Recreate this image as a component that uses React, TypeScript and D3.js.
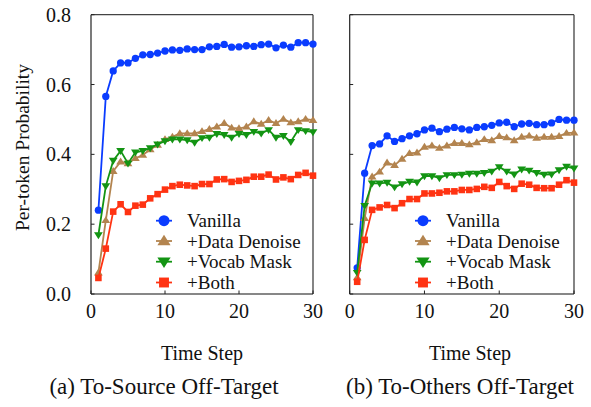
import React from "react";
import * as d3 from "d3";

const steps = d3.range(1, 31);
const seriesNames = ["Vanilla", "+Data Denoise", "+Vocab Mask", "+Both"];

// (a) To-Source Off-Target
const srcVanilla = [0.240, 0.566, 0.639, 0.662, 0.662, 0.675, 0.685, 0.686, 0.690, 0.696, 0.699, 0.698, 0.702, 0.700, 0.700, 0.708, 0.709, 0.715, 0.707, 0.708, 0.711, 0.709, 0.714, 0.716, 0.705, 0.713, 0.707, 0.720, 0.720, 0.716];
const srcDenoise = [0.061, 0.211, 0.352, 0.379, 0.374, 0.389, 0.398, 0.414, 0.427, 0.443, 0.450, 0.460, 0.460, 0.460, 0.466, 0.472, 0.479, 0.489, 0.476, 0.474, 0.479, 0.494, 0.487, 0.498, 0.489, 0.501, 0.491, 0.494, 0.501, 0.498];
const srcVocab = [0.169, 0.309, 0.382, 0.410, 0.374, 0.406, 0.410, 0.418, 0.429, 0.438, 0.443, 0.443, 0.441, 0.434, 0.447, 0.448, 0.459, 0.456, 0.448, 0.459, 0.456, 0.465, 0.460, 0.470, 0.448, 0.453, 0.436, 0.470, 0.467, 0.464];
const srcBoth = [0.046, 0.130, 0.236, 0.257, 0.235, 0.253, 0.256, 0.274, 0.286, 0.299, 0.309, 0.313, 0.311, 0.309, 0.315, 0.315, 0.328, 0.329, 0.321, 0.324, 0.327, 0.336, 0.336, 0.342, 0.328, 0.334, 0.329, 0.341, 0.347, 0.339];

// (b) To-Others Off-Target
const othVanilla = [0.075, 0.346, 0.425, 0.430, 0.453, 0.437, 0.445, 0.453, 0.459, 0.470, 0.475, 0.465, 0.472, 0.477, 0.473, 0.470, 0.477, 0.479, 0.483, 0.490, 0.492, 0.479, 0.487, 0.489, 0.485, 0.485, 0.490, 0.500, 0.498, 0.498];
const othDenoise = [0.047, 0.217, 0.336, 0.350, 0.376, 0.369, 0.387, 0.403, 0.405, 0.421, 0.425, 0.418, 0.425, 0.432, 0.432, 0.428, 0.434, 0.443, 0.440, 0.452, 0.448, 0.440, 0.450, 0.453, 0.447, 0.450, 0.450, 0.452, 0.461, 0.462];
const othVocab = [0.061, 0.253, 0.317, 0.317, 0.319, 0.306, 0.315, 0.322, 0.320, 0.338, 0.338, 0.332, 0.341, 0.341, 0.342, 0.345, 0.345, 0.347, 0.351, 0.364, 0.351, 0.343, 0.357, 0.354, 0.347, 0.342, 0.343, 0.355, 0.365, 0.360];
const othBoth = [0.035, 0.155, 0.241, 0.248, 0.255, 0.246, 0.260, 0.272, 0.272, 0.288, 0.288, 0.290, 0.294, 0.294, 0.298, 0.298, 0.301, 0.307, 0.304, 0.321, 0.309, 0.301, 0.316, 0.313, 0.304, 0.303, 0.303, 0.313, 0.326, 0.319];

const xTicks = [0, 10, 20, 30];
const yTicks = [0, 0.2, 0.4, 0.6, 0.8];
const captions = ["(a) To-Source Off-Target", "(b) To-Others Off-Target"];

const colors = ["#0a3cff", "#b3844f", "#139413", "#ff3312"];
const markerTypes = ["circle", "up", "down", "square"];
const FONT = "'Liberation Serif', 'Times New Roman', serif";

function Marker({ type, x, y, s, color }: { type: string; x: number; y: number; s: number; color: string }) {
  if (type === "circle") return <circle cx={x} cy={y} r={s * 0.5} fill={color} />;
  if (type === "square") return <rect x={x - s * 0.45} y={y - s * 0.45} width={s * 0.9} height={s * 0.9} fill={color} />;
  const h = s * 0.95;
  const w = s * 0.6;
  if (type === "up")
    return <path d={`M${x},${y - h * 0.6}L${x + w},${y + h * 0.4}L${x - w},${y + h * 0.4}Z`} fill={color} />;
  return <path d={`M${x},${y + h * 0.6}L${x + w},${y - h * 0.4}L${x - w},${y - h * 0.4}Z`} fill={color} />;
}

function Panel({ x0, x1, data, showYLabels, legendX, caption, captionX, titleX }: any) {
  const y = d3.scaleLinear().domain([0, 0.8]).range([294, 14.7]);
  const x = d3.scaleLinear().domain([0, 30]).range([x0, x1]);
  const line = d3
    .line<number>()
    .x((_, i) => x(steps[i]))
    .y((d) => y(d));
  const legendY = [220.7, 241, 261.7, 282.5];
  return (
    <g>
      {/* frame */}
      <line x1={x0} x2={x1} y1={y(0.8)} y2={y(0.8)} stroke="#444" strokeWidth={1.2} />
      <line x1={x1} x2={x1} y1={y(0.8)} y2={y(0)} stroke="#333" strokeWidth={1.2} />
      <line x1={x0} x2={x0} y1={y(0.8)} y2={y(0)} stroke="#222" strokeWidth={1.2} />
      <line x1={x0} x2={x1} y1={y(0)} y2={y(0)} stroke="#111" strokeWidth={1.2} />
      {yTicks.map((t) => (
        <g key={"y" + t}>
          <line x1={x0} x2={x0 + 3.5} y1={y(t)} y2={y(t)} stroke="#222" strokeWidth={1} />
          {showYLabels && (
            <text x={x0 - 20} y={y(t)} dy="0.35em" textAnchor="end" fontSize={20} fontFamily={FONT} fill="#111">
              {d3.format(".1f")(t)}
            </text>
          )}
        </g>
      ))}
      {xTicks.map((t) => (
        <g key={"x" + t}>
          <line x1={x(t)} x2={x(t)} y1={y(0)} y2={y(0) - 3.5} stroke="#222" strokeWidth={1} />
          <text x={x(t)} y={318} textAnchor="middle" fontSize={20} fontFamily={FONT} fill="#111">
            {t}
          </text>
        </g>
      ))}
      <text x={titleX} y={360} textAnchor="middle" fontSize={20} fontFamily={FONT} fill="#111">
        Time Step
      </text>
      <text x={captionX} y={394} textAnchor="middle" fontSize={23} fontFamily={FONT} fill="#111">
        {caption}
      </text>
      {data.map((s: number[], si: number) => (
        <g key={"s" + si}>
          <path d={line(s) || ""} fill="none" stroke={colors[si]} strokeWidth={1.8} />
          {s.map((v, i) => (
            <Marker key={i} type={markerTypes[si]} x={x(steps[i])} y={y(v)} s={7.3} color={colors[si]} />
          ))}
        </g>
      ))}
      {seriesNames.map((n, i) => (
        <g key={"l" + i}>
          <line x1={legendX - 8} x2={legendX + 8} y1={legendY[i]} y2={legendY[i]} stroke={colors[i]} strokeWidth={1.8} />
          <Marker type={markerTypes[i]} x={legendX} y={legendY[i]} s={11} color={colors[i]} />
          <text x={legendX + 23} y={legendY[i]} dy="0.35em" fontSize={19} fontFamily={FONT} fill="#111">
            {n}
          </text>
        </g>
      ))}
    </g>
  );
}

export default function App() {
  return (
    <svg width={591} height={407} style={{ position: "absolute", left: 0, top: 0, background: "#fff" }}>
      <text
        transform="translate(29,147.5) rotate(-90)"
        textAnchor="middle"
        fontSize={19.5}
        fontFamily={FONT}
        fill="#111"
      >
        Per-token Probability
      </text>
      <Panel
        x0={91}
        x1={313}
        data={[srcVanilla, srcDenoise, srcVocab, srcBoth]}
        showYLabels={true}
        legendX={164}
        caption={captions[0]}
        captionX={164}
        titleX={202}
      />
      <Panel
        x0={349.7}
        x1={574}
        data={[othVanilla, othDenoise, othVocab, othBoth]}
        showYLabels={false}
        legendX={423}
        caption={captions[1]}
        captionX={460}
        titleX={470}
      />
    </svg>
  );
}
